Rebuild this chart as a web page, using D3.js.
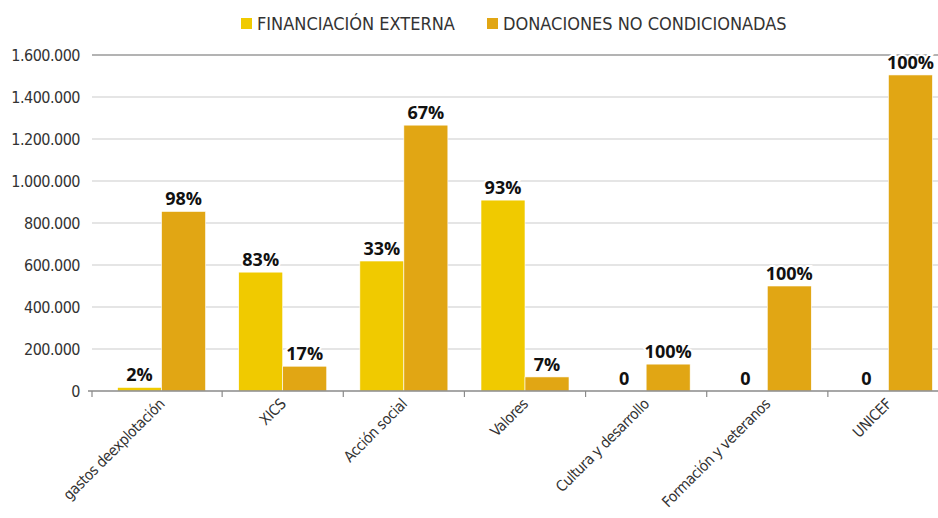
<html>
<head>
<meta charset="utf-8">
<script src="https://cdn.jsdelivr.net/npm/d3@7"></script>
<style>
  body { margin: 0; background: #fff; }
  text { font-family: "Liberation Sans Narrow", "DejaVu Sans Condensed", sans-serif; fill: #333; }
  .lbl { font-family: "Open Sans", "Noto Sans", sans-serif; font-weight: bold; fill: #111; }
</style>
</head>
<body>
<svg width="938" height="518"></svg>
<script>
// data
var categories = ['gastos deexplotación', 'XICS', 'Acción social', 'Valores', 'Cultura y desarrollo', 'Formación y veteranos', 'UNICEF'];
var externa = [17000, 566000, 619000, 909000, 0, 0, 0];
var donaciones = [855000, 118000, 1266000, 67000, 128000, 500000, 1505000];
var externaLabels = ['2%', '83%', '33%', '93%', '0', '0', '0'];
var donacionesLabels = ['98%', '17%', '67%', '7%', '100%', '100%', '100%'];
var yTicks = [0, 200000, 400000, 600000, 800000, 1000000, 1200000, 1400000, 1600000];
var series = ['FINANCIACIÓN EXTERNA', 'DONACIONES NO CONDICIONADAS'];
var colors = ['#f0ca00', '#e1a614'];

var svg = d3.select('svg');
var plotLeft = 92, plotRight = 938, plotTop = 55, plotBottom = 391;

var x = d3.scaleBand().domain(categories).range([101, 949]);
var x1 = d3.scaleBand().domain([0, 1]).range([0, 88]);
var y = d3.scaleLinear().domain([0, 1600000]).range([plotBottom, plotTop]);

var loc = d3.formatLocale({decimal: ',', thousands: '.', grouping: [3], currency: ['', '']});
var fmt = loc.format(',d');

// gridlines
svg.append('g')
    .selectAll('line')
    .data(yTicks.filter(function(d) { return d > 0; }))
    .enter()
    .append('line')
    .attr('x1', plotLeft).attr('x2', plotRight)
    .attr('y1', function(d) { return y(d); })
    .attr('y2', function(d) { return y(d); })
    .attr('stroke', function(d) { return d === 1600000 ? '#9a9a9a' : '#dcdcdc'; })
    .attr('stroke-width', 1.5);

// y labels
svg.append('g')
    .selectAll('text')
    .data(yTicks)
    .enter()
    .append('text')
    .attr('x', 80)
    .attr('y', function(d) { return y(d); })
    .attr('dy', '0.35em')
    .attr('text-anchor', 'end')
    .style('font-size', '16px')
    .style('letter-spacing', '-0.5px')
    .text(function(d) { return fmt(d); });

// bars
var rows = categories.map(function(c, i) {
  return {cat: c, vals: [externa[i], donaciones[i]], labels: [externaLabels[i], donacionesLabels[i]]};
});

var groups = svg.append('g')
    .selectAll('g')
    .data(rows)
    .enter()
    .append('g')
    .attr('transform', function(d) { return 'translate(' + (x(d.cat) + x.bandwidth() / 2 - 44) + ',0)'; });

groups.selectAll('rect')
    .data(function(d) { return d.vals.map(function(v, j) { return {v: v, j: j}; }); })
    .enter()
    .append('rect')
    .attr('x', function(d) { return x1(d.j); })
    .attr('width', x1.bandwidth())
    .attr('y', function(d) { return y(d.v); })
    .attr('height', function(d) { return y(0) - y(d.v); })
    .attr('fill', function(d) { return colors[d.j]; })
    .attr('stroke', '#fff')
    .attr('stroke-width', 0.6);

// x axis line and ticks
svg.append('line')
    .attr('x1', 88).attr('x2', plotRight)
    .attr('y1', plotBottom).attr('y2', plotBottom)
    .attr('stroke', '#8a8a8a').attr('stroke-width', 1.5);

svg.append('g')
    .selectAll('line')
    .data(categories)
    .enter()
    .append('line')
    .attr('x1', function(d, i) { return i === 0 ? plotLeft : x(d); })
    .attr('x2', function(d, i) { return i === 0 ? plotLeft : x(d); })
    .attr('y1', plotBottom).attr('y2', plotBottom + 6)
    .attr('stroke', '#8a8a8a').attr('stroke-width', 1.2);

// value labels
groups.selectAll('text.lbl')
    .data(function(d) { return d.vals.map(function(v, j) { return {v: v, j: j, t: d.labels[j]}; }); })
    .enter()
    .append('text')
    .attr('class', 'lbl')
    .attr('x', function(d) { return x1(d.j) + x1.bandwidth() / 2; })
    .attr('y', function(d) { return y(d.v) - 6; })
    .attr('text-anchor', 'middle')
    .style('font-size', '18px')
    .style('stroke', '#fff')
    .style('stroke-width', 4)
    .style('paint-order', 'stroke')
    .text(function(d) { return d.t; });

// x labels
svg.append('g')
    .selectAll('text')
    .data(categories)
    .enter()
    .append('text')
    .attr('transform', function(d) { return 'translate(' + (x(d) + x.bandwidth() / 2 + 4) + ',' + (plotBottom + 14) + ') rotate(-45)'; })
    .attr('text-anchor', 'end')
    .style('font-size', '15px')
    .style('letter-spacing', '-0.4px')
    .text(function(d) { return d; });

// legend
var legX = [241, 487];
var legend = svg.append('g')
    .selectAll('g')
    .data(series)
    .enter()
    .append('g')
    .attr('transform', function(d, i) { return 'translate(' + legX[i] + ',18)'; });
legend.append('rect')
    .attr('width', 11).attr('height', 11)
    .attr('fill', function(d, i) { return colors[i]; });
legend.append('text')
    .attr('x', 16).attr('y', 12)
    .style('font-size', '18px')
    .text(function(d) { return d; });
</script>
</body>
</html>
